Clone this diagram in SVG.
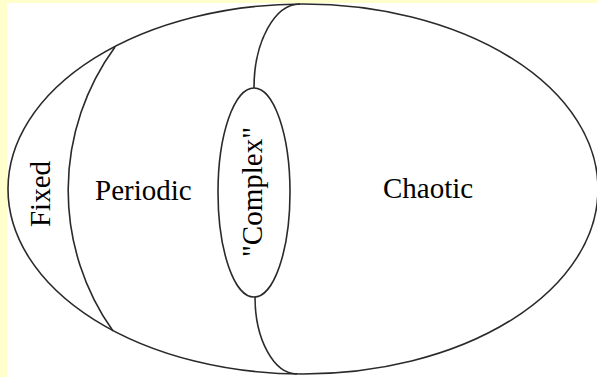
<svg xmlns="http://www.w3.org/2000/svg" width="597" height="377" viewBox="0 0 597 377">
  <style>
    .ln { fill: none; stroke: #2a2a2a; stroke-width: 1.6; }
    .lbl { font-family: "Liberation Serif", "Times New Roman", serif; font-size: 29px; fill: #000; }
  </style>
  <!-- page background with pale frame on top and left -->
  <rect x="0" y="0" width="597" height="377" fill="#FFFFCC"/>
  <rect x="7" y="3" width="590" height="374" fill="#FFFFFF"/>

  <!-- outer boundary of all behaviours -->
  <g id="outer">
    <ellipse class="ln" cx="303" cy="189" rx="295" ry="185"/>
  </g>

  <!-- region dividers -->
  <g id="connectors">
    <path class="ln" d="M115,47 A243,243 0 0 0 113,331"/>
    <path class="ln" d="M300,4 A46,84 0 0 0 254,88"/>
    <path class="ln" d="M255,297 A42,77 0 0 0 297,374"/>
  </g>

  <g id="fixed">
    <text class="lbl" text-anchor="middle" transform="translate(50,194) rotate(-90)">Fixed</text>
  </g>

  <g id="periodic">
    <text class="lbl" x="95" y="200">Periodic</text>
  </g>

  <g id="complex">
    <ellipse class="ln" cx="254" cy="192.5" rx="36" ry="104.5"/>
    <text class="lbl" text-anchor="middle" transform="translate(262,192) rotate(-90)">"Complex"</text>
  </g>

  <g id="chaotic">
    <text class="lbl" x="383" y="198">Chaotic</text>
  </g>
</svg>
